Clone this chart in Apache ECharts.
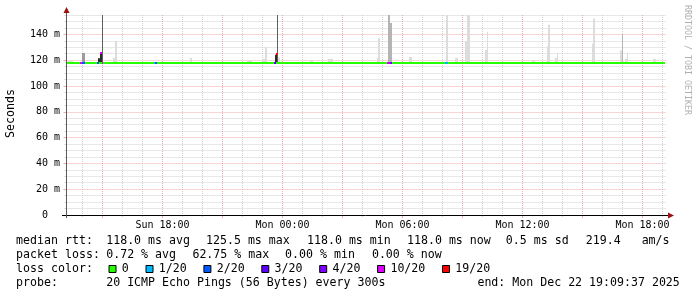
<!DOCTYPE html>
<html><head><meta charset="utf-8">
<script src="https://cdn.jsdelivr.net/npm/echarts@6/dist/echarts.min.js"></script>
<style>html,body{margin:0;padding:0;background:#fff}#c{width:697px;height:297px}</style>
</head><body><div id="c"></div>
<script>
// ---- data (x in hours since Sun Dec 21 00:00, y in ms) ----
const timeRange = [13.2, 43.2];
const valueRange = [0, 155];
const minorHourTicks = [14,16,17,19,20,22,23,25,26,28,29,31,32,34,35,37,38,40,41,43];
const majorHourTicks = [15,18,21,24,27,30,33,36,39,42];
const hourLabels = [18,24,30,36,42];
const dayNames = ['Sun','Mon'];
const minorMsTicks = [5,10,15,25,30,35,45,50,55,65,70,75,85,90,95,105,110,115,125,130,135,145,150,155];
const majorMsTicks = [20,40,60,80,100,120,140];
const msLabels = [0,20,40,60,80,100,120,140];

// smoke bands: [start h, end h, low ms, high ms, density class]
const smokeBands = [
  [13.275,13.525,118,119.3,0],
  [13.975,14.125,118,125.6,2],
  [14.75,14.85,118,121.5,3],
  [14.85,14.95,118,125,3],
  [14.96,15.01,118,155,4],
  [15.525,15.625,118,121.7,0],
  [15.625,15.725,118,134.8,0],
  [19.35,19.475,118,121.7,0],
  [22.225,22.475,118,119.7,0],
  [22.975,23.125,118,121,0],
  [23.125,23.225,118,130,0],
  [23.625,23.725,118,124.2,3],
  [23.725,23.775,118,155,4],
  [23.775,23.875,118,122,0],
  [25.375,25.525,118,120,0],
  [26.275,26.525,118,121,0],
  [28.725,28.775,118,121.7,0],
  [28.775,28.9,118,137,0],
  [29.275,29.375,118,155,1],
  [29.375,29.49,118,148.8,1],
  [30.325,30.49,118,122.5,0],
  [32.175,32.29,118,155,0],
  [32.625,32.775,118,121.7,0],
  [33.125,33.24,118,134.6,0],
  [33.24,33.375,118,155,0],
  [34.125,34.225,118,128,0],
  [34.225,34.275,118,141.9,0],
  [36.475,36.625,118,119.5,0],
  [37.225,37.275,118,130.8,0],
  [37.275,37.375,118,147.5,0],
  [37.625,37.74,118,121.7,0],
  [37.74,37.79,118,125.6,0],
  [39.475,39.55,118,132.6,0],
  [39.55,39.64,118,152.2,0],
  [40.875,40.975,118,127.4,0],
  [40.975,41.025,118,139.8,1],
  [41.125,41.225,118,121,0],
  [41.225,41.275,118,125.6,0],
  [42.525,42.675,118,121,0]
];
// median rtt segments: [start h, end h, median ms, loss class]
const medianSegments = [
  [13.225,43.125,118,0],
  [13.875,13.975,118,5],
  [13.975,14.125,118,2],
  [14.7,14.825,118,2],
  [14.85,14.96,125.5,5],
  [14.96,15.025,118,5],
  [17.55,17.64,118,1],
  [17.64,17.725,118,2],
  [23.55,23.7,118,3],
  [23.7,23.775,124.5,6],
  [29.25,29.375,118,5],
  [29.375,29.49,118,4],
  [32.125,32.29,118,1]
];
const lossLabels = ['0','1/20','2/20','3/20','4/20','10/20','19/20'];
const legendRtt = ['median rtt:','118.0 ms avg','125.5 ms max','118.0 ms min','118.0 ms now','0.5 ms sd','219.4   am/s'];
const legendLoss = ['packet loss:','0.72 % avg','62.75 % max','0.00 % min','0.00 % now'];
const legendLossColor = 'loss color:';
const legendProbe = ['probe:','20 ICMP Echo Pings (56 Bytes) every 300s','end: Mon Dec 22 19:09:37 2025'];
const yTitle = 'Seconds';
const watermark = 'RRDTOOL / TOBI OETIKER';

// ---- styles ----
const lossColors = ['#26ff00','#00b8ff','#0059ff','#5e00ff','#7e00ff','#dd00ff','#ff0000'];
const smokeColors = ['#dcdcdc','#b4b4b4','#9c9c9c','#2a2a2a','#606060'];
const MONO = '"DejaVu Sans Mono", monospace';
const GREY = '#d0d0d0', RED = '#efabab';

const chart = echarts.init(document.getElementById('c'), null, {renderer:'canvas'});
const pad = n => (n < 10 ? '0' : '') + n;
function xFmt(v){ return dayNames[Math.floor(v/24)] + ' ' + pad(v % 24) + ':00'; }

function gridAxis(extra){ return Object.assign({type:'value', gridIndex:0, axisLine:{show:false, onZero:false}}, extra); }

const xAxes = [
  gridAxis({min:timeRange[0], max:timeRange[1], position:'bottom',
    axisTick:{show:true, length:2, customValues:minorHourTicks, lineStyle:{color:GREY}},
    splitLine:{show:true, lineStyle:{color:GREY, type:[1,1], width:1}},
    axisLabel:{show:true, customValues:hourLabels, formatter:xFmt, margin:5,
      fontFamily:MONO, fontSize:10, color:'#000'}}),
  gridAxis({min:timeRange[0], max:timeRange[1], position:'bottom',
    axisTick:{show:true, length:3, customValues:majorHourTicks, lineStyle:{color:RED}},
    splitLine:{show:true, lineStyle:{color:RED, type:[1,1], width:1}},
    axisLabel:{show:false}})
];
const yAxes = [
  gridAxis({min:valueRange[0], max:valueRange[1], position:'left',
    axisTick:{show:true, length:2, customValues:minorMsTicks, lineStyle:{color:GREY}},
    splitLine:{show:true, lineStyle:{color:GREY, type:[1,1], width:1}},
    axisLabel:{show:false}}),
  gridAxis({min:valueRange[0], max:valueRange[1], position:'left',
    axisTick:{show:true, length:3, customValues:majorMsTicks, lineStyle:{color:RED}},
    splitLine:{show:true, lineStyle:{color:RED, type:[1,1], width:1}},
    axisLabel:{show:true, customValues:msLabels, margin:6.5,
      formatter: v => v === 0 ? '0  ' : v + ' m',
      fontFamily:MONO, fontSize:10, color:'#000'}})
];

const graphics = [];
function txt(x, y, s, extra){
  graphics.push(Object.assign({type:'text', x:x, y:y, z:100, silent:true,
    style:Object.assign({text:s, fill:'#000', font:'11.6px ' + MONO,
      align:'left', verticalAlign:'middle', textAlign:'left', textVerticalAlign:'middle'}, extra && extra.style || {})},
    extra && extra.el || {}));
}
// axis lines + arrows
graphics.push({type:'line', z:100, silent:true, shape:{x1:62, y1:215.5, x2:669, y2:215.5}, style:{stroke:'#000', lineWidth:1}});
graphics.push({type:'polygon', z:101, silent:true, shape:{points:[[668,212.5],[674,215.5],[668,218.5]]}, style:{fill:'#9b1010'}});
graphics.push({type:'line', z:100, silent:true, shape:{x1:66.5, y1:218, x2:66.5, y2:12}, style:{stroke:'#5a5a5a', lineWidth:1}});
graphics.push({type:'polygon', z:101, silent:true, shape:{points:[[63.5,13],[66.5,7],[69.5,13]]}, style:{fill:'#9b1010'}});
// y title & watermark
txt(11, 113.5, yTitle, {el:{rotation:Math.PI/2}, style:{align:'center', textAlign:'center'}});
txt(687.5, 60, watermark, {el:{rotation:-Math.PI/2}, style:{align:'center', textAlign:'center', fill:'#b0b0b0', font:'8.3px ' + MONO}});
// legend
const rowY = [241.2, 255.0, 268.8, 282.7];
const rttX = [16.1, 106.2, 206, 307, 407, 505.8, 585.8];
legendRtt.forEach((s,i) => txt(rttX[i], rowY[0], s));
const lossX = [16.1, 106.2, 192.4, 285.1, 371.9];
legendLoss.forEach((s,i) => txt(lossX[i], rowY[1], s));
txt(16.1, rowY[2], legendLossColor);
const boxX = [108.5, 145.5, 203.4, 261.3, 319.2, 377.1, 442];
lossLabels.forEach((s,i) => {
  graphics.push({type:'rect', z:100, silent:true, shape:{x:boxX[i]+0.5, y:265.5, width:7, height:7},
    style:{fill:lossColors[i], stroke:'#000', lineWidth:1}});
  txt(boxX[i] + 13.3, rowY[2], s);
});
const probeX = [16.1, 106.2, 477.4];
legendProbe.forEach((s,i) => txt(probeX[i], rowY[3], s));

chart.setOption({
  animation:false,
  backgroundColor:'#fff',
  grid:{left:66.5, top:15, width:600, height:200, containLabel:false},
  xAxis:xAxes,
  yAxis:yAxes,
  series:[
    {type:'custom', xAxisIndex:0, yAxisIndex:0, z:3, clip:true,
     data:smokeBands, encode:{x:[0,1], y:[2,3]},
     renderItem:(params, api) => {
       const a = api.coord([api.value(0), api.value(3)]);
       const b = api.coord([api.value(1), api.value(2)]);
       const x0 = Math.round(a[0]), x1 = Math.max(Math.round(b[0]), x0 + 1);
       return {type:'rect', shape:{x:x0, y:a[1], width:x1 - x0, height:b[1] - a[1]},
         style:{fill:smokeColors[api.value(4)]}};
     }},
    {type:'custom', xAxisIndex:0, yAxisIndex:0, z:4, clip:true,
     data:medianSegments, encode:{x:[0,1], y:2},
     renderItem:(params, api) => {
       const a = api.coord([api.value(0), api.value(2)]);
       const b = api.coord([api.value(1), api.value(2)]);
       const x0 = Math.round(a[0]), x1 = Math.max(Math.round(b[0]), x0 + 1);
       return {type:'rect', shape:{x:x0, y:Math.round(a[1] - 1), width:x1 - x0, height:2},
         style:{fill:lossColors[api.value(3)]}};
     }}
  ],
  graphic:{elements:graphics}
});
</script></body></html>
